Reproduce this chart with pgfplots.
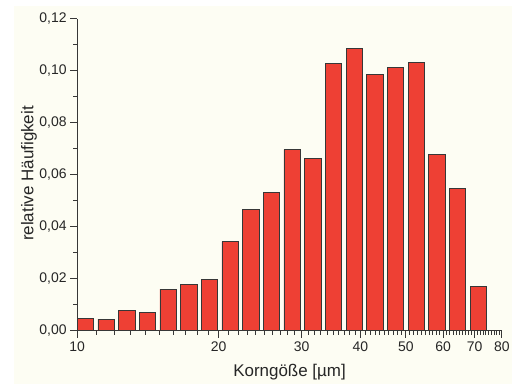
\documentclass[border=0pt]{standalone}
\usepackage{pgfplots}
\pgfplotsset{compat=1.18}
\usepackage{fontspec}
\setmainfont{Liberation Sans}
\definecolor{cream}{RGB}{253,253,243}
\definecolor{barred}{RGB}{238,64,52}
\definecolor{edge}{RGB}{55,55,55}
\begin{document}
\begin{tikzpicture}
\fill[white] (0pt,0pt) rectangle (513pt,385pt);
\fill[cream] (14pt,0pt) rectangle (513pt,379pt);
\begin{axis}[
  at={(77.3pt,53.3pt)}, anchor=south west,
  scale only axis, width=426pt, height=313pt,
  xmode=log, log basis x=10,
  xmin=10, xmax=80, ymin=0, ymax=0.12,
  axis x line=bottom, axis y line=left,
  axis line style={-, line width=1.1pt, edge},
  every tick/.style={line width=1pt, edge},
  tick align=outside,
  major tick length=7pt, minor tick length=4pt,
  xtick={10,20,30,40,50,60,70,80},
  xticklabels={10,20,30,40,50,60,70,80},
  minor xtick={11,12,13,14,15,16,17,18,19,21,22,23,24,25,26,27,28,29,31,32,33,34,35,36,37,38,39,41,42,43,44,45,46,47,48,49,51,52,53,54,55,56,57,58,59,61,62,63,64,65,66,67,68,69,71,72,73,74,75,76,77,78,79},
  ytick={0,0.02,0.04,0.06,0.08,0.1,0.12},
  minor ytick={0.01,0.03,0.05,0.07,0.09,0.11},
  yticklabel style={/pgf/number format/.cd, fixed, fixed zerofill, precision=2, use comma, assume math mode=true},
  tick label style={font=\fontsize{14}{16}\selectfont, text=black!85},
  label style={font=\fontsize{17}{20}\selectfont, text=black!85},
  xlabel={Korngöße [µm]},
  ylabel={relative Häufigkeit},
  x label style={at={(axis description cs:0.5,-0.131)}, anchor=center},
  y label style={at={(axis description cs:-0.1135,0.504)}, anchor=center},
  ybar, bar width=16.5pt,
  clip=false,
]
\addplot[fill=barred, draw=edge, line width=0.9pt] coordinates {
(10.42,0.0047)
(11.53,0.0045)
(12.76,0.0079)
(14.12,0.0069)
(15.62,0.0160)
(17.28,0.0178)
(19.12,0.0199)
(21.16,0.0343)
(23.41,0.0465)
(25.90,0.0533)
(28.66,0.0696)
(31.71,0.0663)
(35.09,0.1029)
(38.83,0.1084)
(42.96,0.0987)
(47.54,0.1014)
(52.60,0.1032)
(58.20,0.0676)
(64.40,0.0546)
(71.26,0.0170)
};
\end{axis}
\end{tikzpicture}
\end{document}
